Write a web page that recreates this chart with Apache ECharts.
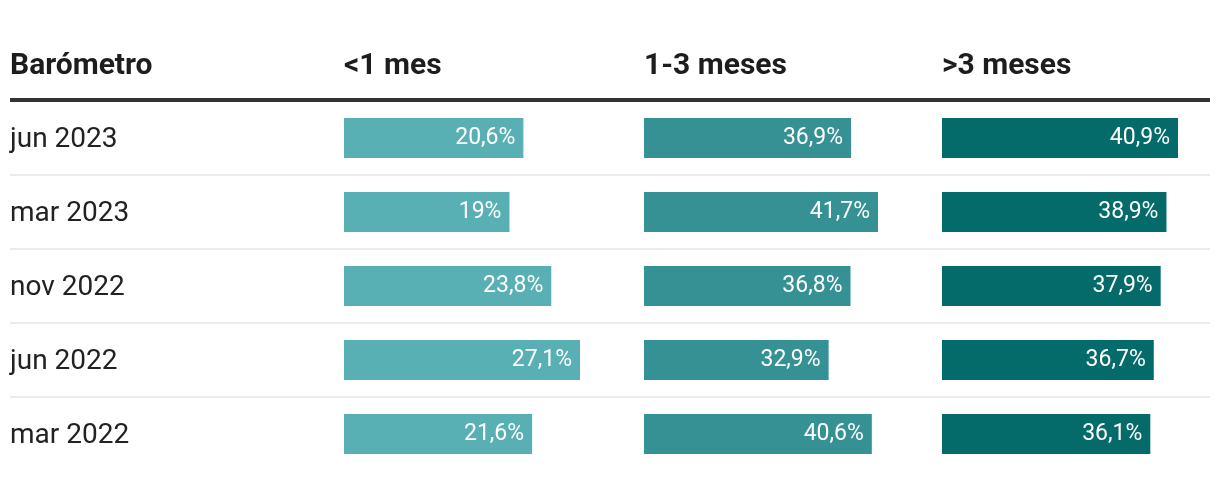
<!DOCTYPE html>
<html>
<head>
<meta charset="utf-8">
<script src="https://cdn.jsdelivr.net/npm/echarts@6/dist/echarts.min.js"></script>
<style>
html,body{margin:0;padding:0;background:#fff;}
#chart{width:1220px;height:480px;}
</style>
</head>
<body>
<div id="chart"></div>
<script>
const categories = ['jun 2023', 'mar 2023', 'nov 2022', 'jun 2022', 'mar 2022'];
const headerLabel = 'Barómetro';
const columnNames = ['<1 mes', '1-3 meses', '>3 meses'];
const lessThan1 = [20.6, 19, 23.8, 27.1, 21.6];
const oneToThree = [36.9, 41.7, 36.8, 32.9, 40.6];
const moreThan3 = [40.9, 38.9, 37.9, 36.7, 36.1];

const seriesValues = [lessThan1, oneToThree, moreThan3];
const colors = ['#59b0b4', '#369194', '#046b6a'];
const lefts = [344, 644, 942];
const widths = [236, 234, 236];
const font = 'Roboto, "Noto Sans", sans-serif';

const chart = echarts.init(document.getElementById('chart'), null, {renderer: 'canvas'});

const grids = [], xAxes = [], yAxes = [], series = [];
seriesValues.forEach((vals, i) => {
  grids.push({left: lefts[i], top: 101, width: widths[i], height: 370, containLabel: false});
  xAxes.push({type: 'value', gridIndex: i, min: 0, max: 'dataMax', show: false});
  yAxes.push({
    type: 'category', gridIndex: i, data: categories, inverse: true,
    axisLine: {show: false}, axisTick: {show: false}, splitLine: {show: false},
    axisLabel: i === 0 ? {
      show: true, align: 'left', margin: 334,
      formatter: v => '{a|' + v + '}',
      rich: {a: {fontFamily: font, fontSize: 28, color: '#222', padding: [4, 0, 0, 0]}}
    } : {show: false}
  });
  series.push({
    type: 'bar', xAxisIndex: i, yAxisIndex: i, data: vals, barWidth: 40,
    itemStyle: {color: colors[i]}, silent: true,
    label: {
      show: true, position: 'insideRight', distance: 8, color: '#fff',
      fontFamily: font, fontSize: 23,
      formatter: p => String(p.value).replace('.', ',') + '%'
    }
  });
});

const headerTexts = [headerLabel].concat(columnNames);
const headerX = [10].concat(lefts);
const title = headerTexts.map((t, i) => ({
  text: t, left: headerX[i], top: 51, padding: 0,
  textStyle: {fontFamily: font, fontSize: 30, fontWeight: 'bold', color: '#1d1d1d'}
}));

const graphic = [
  {type: 'rect', shape: {x: 10, y: 98, width: 1200, height: 4}, style: {fill: '#333'}, silent: true}
];
[175, 249, 323, 397].forEach(y => {
  graphic.push({type: 'rect', shape: {x: 10, y: y - 1, width: 1200, height: 2}, style: {fill: '#ececec'}, silent: true});
});

chart.setOption({
  animation: false,
  backgroundColor: '#fff',
  title: title,
  grid: grids,
  xAxis: xAxes,
  yAxis: yAxes,
  series: series,
  graphic: graphic
});
</script>
</body>
</html>
